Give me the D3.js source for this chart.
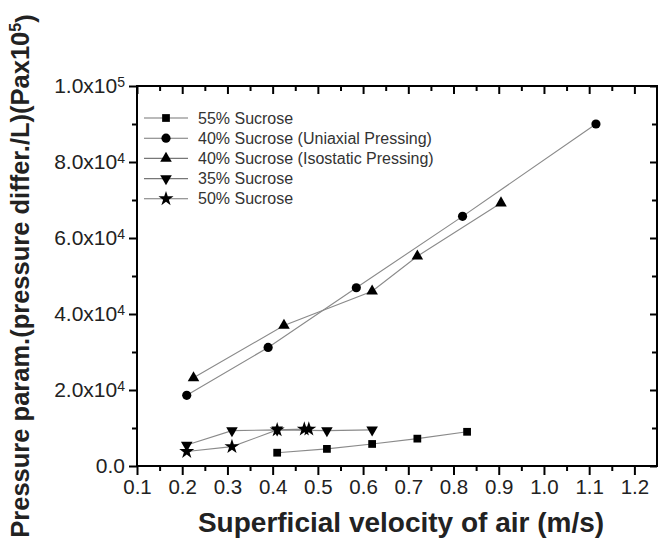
<!DOCTYPE html>
<html>
<head>
    <title>Pressure parameter vs superficial velocity</title>
    <script src="https://cdnjs.cloudflare.com/ajax/libs/d3/7.8.5/d3.min.js"></script>
    <style>
        body {
            margin: 0;
            background: white;
            font-family: Arial, "Liberation Sans", sans-serif;
        }
        .tick text {
            fill: #222;
        }
    </style>
</head>
<body>
    <div id="chart"></div>

    <script>
        // Data (velocity m/s, pressure parameter Pa)
        const sucrose55 = [[0.41, 3500], [0.52, 4500], [0.62, 5800], [0.72, 7200], [0.83, 9000]];
        const sucrose40Uni = [[0.21, 18600], [0.39, 31200], [0.585, 46900], [0.82, 65700], [1.115, 90000]];
        const sucrose40Iso = [[0.225, 23200], [0.425, 37000], [0.62, 46000], [0.72, 55200], [0.905, 69200]];
        const sucrose35 = [[0.21, 5500], [0.31, 9300], [0.41, 9500], [0.52, 9300], [0.62, 9500]];
        const sucrose50 = [[0.21, 3800], [0.31, 5100], [0.41, 9500], [0.47, 9700], [0.48, 9700]];

        const seriesNames = [
            "55% Sucrose",
            "40% Sucrose (Uniaxial Pressing)",
            "40% Sucrose (Isostatic Pressing)",
            "35% Sucrose",
            "50% Sucrose"
        ];
        const seriesData = [sucrose55, sucrose40Uni, sucrose40Iso, sucrose35, sucrose50];

        const xTicks = [0.1, 0.2, 0.3, 0.4, 0.5, 0.6, 0.7, 0.8, 0.9, 1.0, 1.1, 1.2];
        const yTicks = [0, 20000, 40000, 60000, 80000, 100000];
        const yTickLabels = [["0.0", ""], ["2.0x10", "4"], ["4.0x10", "4"], ["6.0x10", "4"], ["8.0x10", "4"], ["1.0x10", "5"]];

        const width = 664;
        const height = 548;
        const plot = { left: 137, right: 657, top: 86, bottom: 466 };

        const svg = d3.select("#chart")
            .append("svg")
            .attr("width", width)
            .attr("height", height);

        const x = d3.scaleLinear().domain([0.1, 1.25]).range([plot.left, plot.right]);
        const y = d3.scaleLinear().domain([0, 100000]).range([plot.bottom, plot.top]);

        // minor tick positions
        const xMinor = d3.range(0.15, 1.25, 0.1);
        const yMinor = d3.range(10000, 100000, 20000);

        // Bottom axis (outward ticks with labels)
        const xAxis = svg.append("g")
            .attr("transform", `translate(0,${plot.bottom})`)
            .call(d3.axisBottom(x).tickValues(xTicks).tickFormat(d3.format(".1f")).tickSizeInner(9).tickSizeOuter(0).tickPadding(4));
        xAxis.selectAll("text").style("font-size", "20.5px");
        xAxis.select(".domain").remove();
        xAxis.selectAll("line").attr("stroke-width", 2);
        svg.append("g")
            .attr("transform", `translate(0,${plot.bottom})`)
            .call(d3.axisBottom(x).tickValues(xMinor).tickFormat("").tickSizeInner(5).tickSizeOuter(0))
            .call(g => g.select(".domain").remove())
            .selectAll("line").attr("stroke-width", 2);

        // Top axis (inward ticks)
        svg.append("g")
            .attr("transform", `translate(0,${plot.top})`)
            .call(d3.axisBottom(x).tickValues(xTicks).tickFormat("").tickSizeInner(8).tickSizeOuter(0))
            .call(g => g.select(".domain").remove())
            .selectAll("line").attr("stroke-width", 2);
        svg.append("g")
            .attr("transform", `translate(0,${plot.top})`)
            .call(d3.axisBottom(x).tickValues(xMinor).tickFormat("").tickSizeInner(5).tickSizeOuter(0))
            .call(g => g.select(".domain").remove())
            .selectAll("line").attr("stroke-width", 2);

        // Left axis (outward ticks, labels with superscripts)
        const yAxis = svg.append("g")
            .attr("transform", `translate(${plot.left},0)`)
            .call(d3.axisLeft(y).tickValues(yTicks).tickSizeInner(8).tickSizeOuter(0).tickPadding(4)
                .tickFormat(""));
        yAxis.select(".domain").remove();
        yAxis.selectAll("line").attr("stroke-width", 2);
        yAxis.selectAll(".tick text")
            .style("font-size", "21px")
            .each(function(d, i) {
                const t = d3.select(this);
                t.append("tspan").text(yTickLabels[i][0]);
                if (yTickLabels[i][1]) {
                    t.append("tspan")
                        .attr("dy", "-0.45em")
                        .style("font-size", "14px")
                        .text(yTickLabels[i][1]);
                }
            });
        svg.append("g")
            .attr("transform", `translate(${plot.left},0)`)
            .call(d3.axisLeft(y).tickValues(yMinor).tickFormat("").tickSizeInner(5).tickSizeOuter(0))
            .call(g => g.select(".domain").remove())
            .selectAll("line").attr("stroke-width", 2);

        // Right axis (inward ticks)
        svg.append("g")
            .attr("transform", `translate(${plot.right},0)`)
            .call(d3.axisRight(y).tickValues(yTicks).tickFormat("").tickSizeInner(-7).tickSizeOuter(0))
            .call(g => g.select(".domain").remove())
            .selectAll("line").attr("stroke-width", 2);
        svg.append("g")
            .attr("transform", `translate(${plot.right},0)`)
            .call(d3.axisRight(y).tickValues(yMinor).tickFormat("").tickSizeInner(-5).tickSizeOuter(0))
            .call(g => g.select(".domain").remove())
            .selectAll("line").attr("stroke-width", 2);

        // Frame
        svg.append("rect")
            .attr("x", plot.left)
            .attr("y", plot.top)
            .attr("width", plot.right - plot.left)
            .attr("height", plot.bottom - plot.top)
            .attr("fill", "none")
            .attr("stroke", "black")
            .attr("stroke-width", 2);

        // Marker shapes for each series
        const symbols = [
            { type: d3.symbolSquare, size: 60, rotate: 0 },
            { type: d3.symbolCircle, size: 66, rotate: 0 },
            { type: d3.symbolTriangle, size: 58, rotate: 0 },
            { type: d3.symbolTriangle, size: 58, rotate: 180 },
            { type: d3.symbolStar, size: 70, rotate: 0 }
        ];

        const line = d3.line().x(d => x(d[0])).y(d => y(d[1]));

        seriesData.forEach((data, i) => {
            const g = svg.append("g");
            g.append("path")
                .datum(data)
                .attr("d", line)
                .attr("fill", "none")
                .attr("stroke", "#8a8a8a")
                .attr("stroke-width", 1.1);
            const sym = d3.symbol().type(symbols[i].type).size(symbols[i].size);
            g.selectAll("path.mark")
                .data(data)
                .enter()
                .append("path")
                .attr("class", "mark")
                .attr("d", sym)
                .attr("fill", "black")
                .attr("transform", d => `translate(${x(d[0])},${y(d[1])}) rotate(${symbols[i].rotate})`);
        });

        // Legend
        const legend = svg.append("g").attr("transform", "translate(144,118)");
        seriesNames.forEach((name, i) => {
            const row = legend.append("g").attr("transform", `translate(0,${i * 20.2})`);
            row.append("line")
                .attr("x1", 0).attr("x2", 44)
                .attr("stroke", "#777")
                .attr("stroke-width", 1.1);
            row.append("path")
                .attr("d", d3.symbol().type(symbols[i].type).size(symbols[i].size))
                .attr("fill", "black")
                .attr("transform", `translate(22,0) rotate(${symbols[i].rotate})`);
            row.append("text")
                .attr("x", 54)
                .attr("dy", "0.35em")
                .style("font-size", "16px")
                .style("fill", "#333")
                .text(name);
        });

        // Axis titles
        svg.append("text")
            .attr("x", 401)
            .attr("y", 532)
            .attr("text-anchor", "middle")
            .style("font-size", "28px")
            .style("font-weight", "bold")
            .style("fill", "#222")
            .text("Superficial velocity of air (m/s)");

        const yTitle = svg.append("text")
            .attr("transform", "translate(29,276) rotate(-90)")
            .attr("text-anchor", "middle")
            .style("font-size", "25.5px")
            .style("font-weight", "bold")
            .style("fill", "#222");
        yTitle.append("tspan").text("Pressure param.(pressure differ./L)(Pax10");
        yTitle.append("tspan").attr("dy", "-0.5em").style("font-size", "16px").text("5");
        yTitle.append("tspan").attr("dy", "0.5em").text(")");
    </script>
</body>
</html>
